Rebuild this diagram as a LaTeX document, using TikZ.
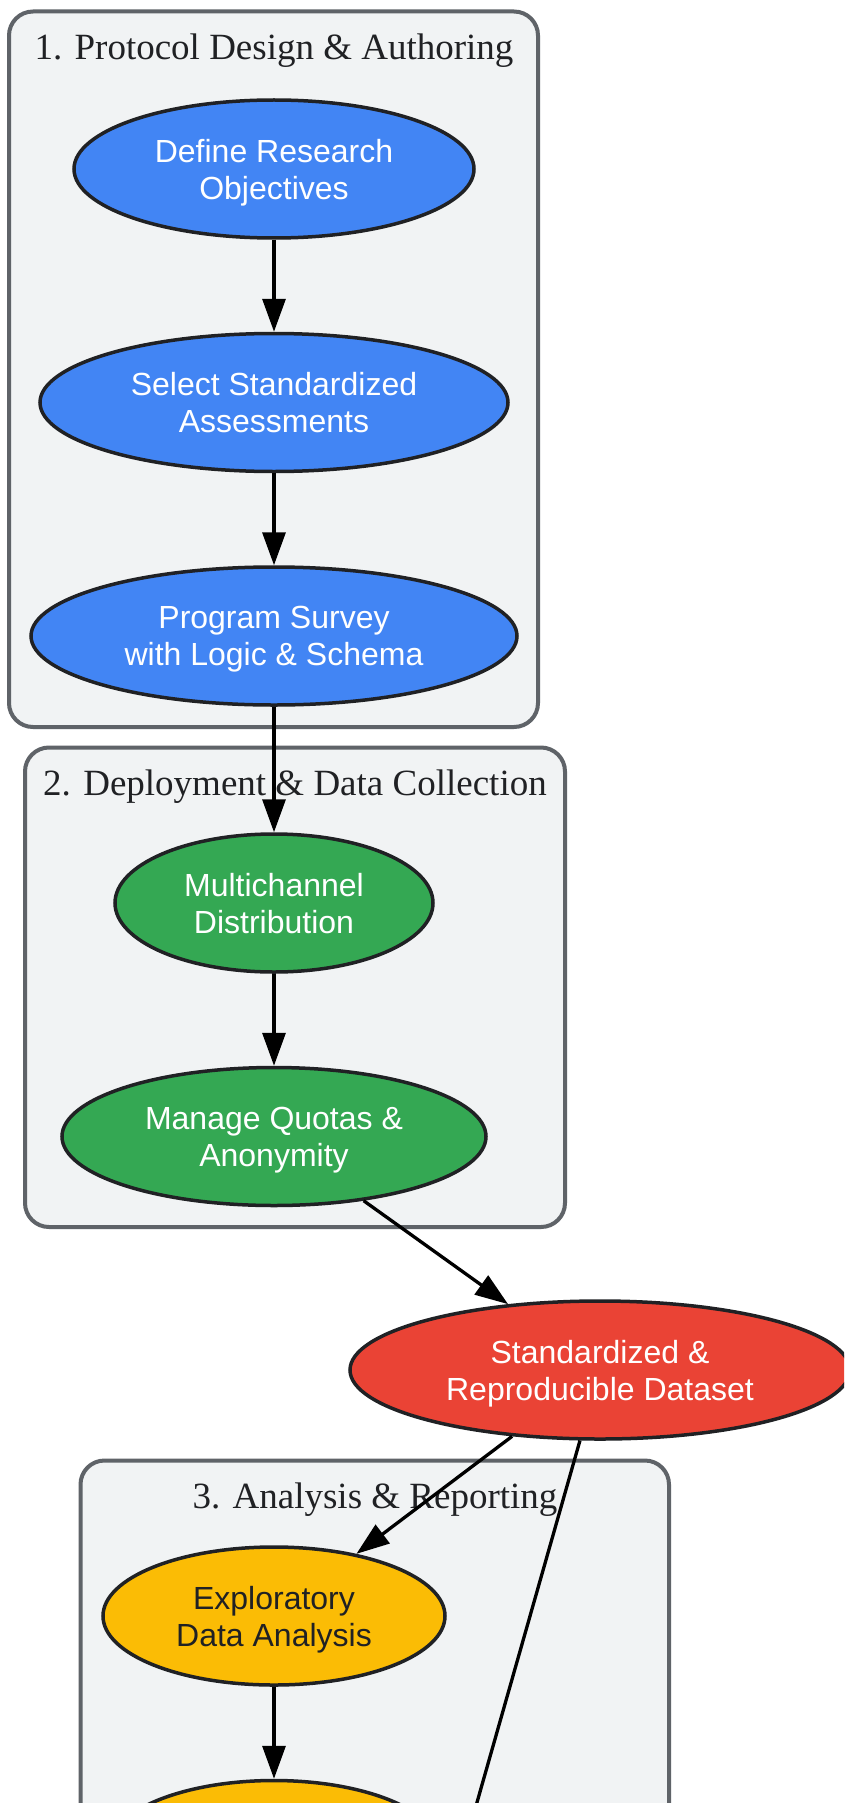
\documentclass[tikz,border=0pt]{standalone}
\usepackage{fontspec}
\setmainfont{Liberation Serif}
\setsansfont{Liberation Sans}
\usetikzlibrary{shapes.geometric,arrows.meta,positioning}
\definecolor{gblue}{HTML}{4285F4}
\definecolor{ggreen}{HTML}{34A853}
\definecolor{gred}{HTML}{EA4335}
\definecolor{gyellow}{HTML}{FBBC05}
\definecolor{clfill}{HTML}{F1F3F4}
\definecolor{cldraw}{HTML}{5F6368}
\definecolor{ink}{HTML}{202124}

\begin{document}
\begin{tikzpicture}[x=1pt,y=-1pt,
      cluster/.style={draw=cldraw,fill=clfill,line width=4pt,rounded corners=24pt},
      clabel/.style={font=\fontsize{37}{44}\selectfont,text=ink},
      stage/.style={ellipse,draw=ink,line width=3.5pt,inner sep=0pt,minimum height=138pt,
        align=center,text depth=0pt,font=\sffamily\fontsize{32}{37}\selectfont,text=white},
      design/.style={stage,fill=gblue},
      collect/.style={stage,fill=ggreen},
      result/.style={stage,fill=gred},
      analysis/.style={stage,fill=gyellow,text=ink},
      flow/.style={draw=black,line width=3.3pt,-{Triangle[length=33pt,width=23pt]}},
      node distance=92pt]
      \clip (0,0) rectangle (844,1803);
      \fill[white] (0,0) rectangle (844,1803);
      % Clusters
      \draw[cluster] (9,11.5) rectangle (538,727);
      \draw[cluster] (25,747.5) rectangle (565,1227);
      \draw[cluster] (80.5,1460.5) rectangle (669,1950);
      \node[clabel] (designlabel) at (274,50.5) {1. Protocol Design \& Authoring};
      \node[clabel] (collectlabel) at (295,786.5) {2. Deployment \& Data Collection};
      \node[clabel] (analysislabel) at (375,1499.5) {3. Analysis \& Reporting};
      % Stages
      \node[design,minimum width=400pt] (objectives) at (274,169) {Define Research\\Objectives};
      \node[design,minimum width=468pt,below=of objectives] (assess) {Select Standardized\\Assessments};
      \node[design,minimum width=486pt,below=of assess] (program) {Program Survey\\with Logic \& Schema};
      \node[collect,minimum width=318pt] (distrib) at (274,903) {Multichannel\\Distribution};
      \node[collect,minimum width=424pt,below=of distrib] (quotas) {Manage Quotas \&\\Anonymity};
      \node[result,minimum width=500pt] (dataset) at (600,1370) {Standardized \&\\Reproducible Dataset};
      \node[analysis,minimum width=342pt] (eda) at (274,1616) {Exploratory\\Data Analysis};
      \node[analysis,minimum width=332pt,below=of eda] (inference) {};
      \coordinate (offpage) at (435,1950);
      % Flow
      \draw[flow] (objectives) -- (assess);
      \draw[flow] (assess) -- (program);
      \draw[flow] (program) -- (distrib);
      \draw[flow] (distrib) -- (quotas);
      \draw[flow] (quotas) -- (dataset);
      \draw[flow] (dataset) -- (eda);
      \draw[flow] (dataset) -- (offpage);
      \draw[flow] (eda) -- (inference);
    \end{tikzpicture}
\end{document}
